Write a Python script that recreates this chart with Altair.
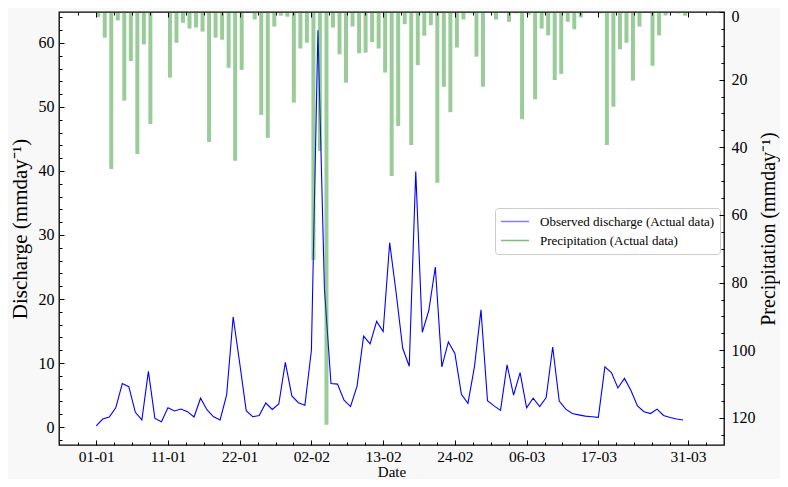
import json
import altair as alt
import pandas as pd

# ---------------- data ----------------
day_index = list(range(91))

discharge = [
    0.16, 1.25, 1.56, 3.0, 6.8, 6.3, 2.3, 1.1, 8.7, 1.35,
    0.83, 3.0, 2.5, 2.8, 2.4, 1.56, 4.5, 2.66, 1.6, 1.1,
    5.0, 17.2, 10.0, 2.55, 1.6, 1.8, 3.75, 2.75, 3.6, 10.1,
    4.85, 3.8, 3.4, 12.0, 62.0, 21.5, 6.8, 6.7, 4.2, 3.2,
    6.4, 14.2, 13.0, 16.5, 14.9, 28.8, 20.9, 12.3, 9.5, 39.9,
    14.8, 18.2, 25.0, 9.4, 13.3, 11.5, 5.1, 3.7, 9.4, 18.3,
    4.1, 3.3, 2.6, 9.7, 5.0, 8.5, 3.0, 4.5, 3.2, 4.6,
    12.5, 4.06, 2.8, 2.1, 1.9, 1.7, 1.6, 1.5, 9.4, 8.5,
    6.1, 7.6, 5.7, 3.3, 2.4, 2.1, 2.8, 1.8, 1.5, 1.25,
    1.1,
]

precipitation = [
    1.5, 7.6, 46.4, 2.5, 26.2, 14.5, 42.0, 9.6, 33.1, 0.0,
    0.0, 19.4, 9.1, 3.2, 4.9, 4.6, 5.8, 38.4, 7.6, 8.2,
    16.5, 44.0, 17.1, 0.0, 2.2, 30.4, 37.2, 4.3, 1.1, 1.4,
    26.8, 10.8, 9.1, 73.3, 41.1, 122.0, 4.6, 12.5, 20.9, 4.3,
    12.2, 12.0, 8.9, 10.8, 17.9, 48.5, 33.7, 3.6, 39.3, 15.7,
    7.0, 3.9, 50.5, 22.1, 29.6, 10.5, 2.2, 0.4, 13.2, 22.1,
    0.3, 2.2, 0.3, 2.9, 0.4, 31.7, 0.8, 25.8, 4.9, 6.9,
    20.1, 18.3, 2.9, 5.1, 1.6, 0.2, 0.0, 0.4, 39.3, 28.0,
    11.0, 9.1, 20.3, 4.3, 0.0, 15.9, 6.9, 1.0, 0.0, 0.4,
    1.1,
]

tick_positions = [0, 11, 22, 33, 44, 55, 66, 77, 90.75]
tick_labels = ["01-01", "11-01", "22-01", "02-02", "13-02",
               "24-02", "06-03", "17-03", "31-03"]

series_names = ["Observed discharge (Actual data)", "Precipitation (Actual data)"]

df = pd.DataFrame({"day": day_index, "discharge": discharge, "precip": precipitation})

# ---------------- styling ----------------
FONT = "Liberation Serif"
X_DOMAIN = [-4.94, 95.5]
Q_DOMAIN = [-2.81, 64.84]
P_DOMAIN = [0, 128]

minor_x = []
for k in range(36):
    v = round(-2.75 + 2.75 * k, 2)
    if v not in tick_positions:
        minor_x.append(v)
minor_y_left = [v for v in range(-2, 65, 2) if v % 10 != 0]
minor_y_right = [v for v in range(0, 129, 5) if v % 20 != 0]

label_expr = "{}[indexof({}, datum.value)]".format(json.dumps(tick_labels), json.dumps(tick_positions))

common_axis = dict(domain=False, grid=False, tickColor="black", tickWidth=1,
                   labelFont=FONT, labelColor="black", titleFont=FONT,
                   titleColor="black", titleFontWeight="normal", zindex=1)

MAJ = 5
MIN = 3
W, H = 665, 433

x_scale = alt.Scale(domain=X_DOMAIN, nice=False, zero=False)
q_scale = alt.Scale(domain=Q_DOMAIN, nice=False, zero=False)
p_scale = alt.Scale(domain=P_DOMAIN, nice=False, zero=False, reverse=True)

color_scale = alt.Scale(domain=series_names, range=["#0000ff", "#008000"])

legend = alt.Legend(
    orient="none", legendX=436, legendY=196, title=None,
    symbolType="stroke", symbolSize=784, symbolStrokeWidth=1.5, symbolOpacity=0.5,
    labelFont=FONT, labelFontSize=13, labelColor="black", labelOffset=10,
    labelLimit=400,
    padding=5, strokeColor="#cccccc", fillColor="white", cornerRadius=3,
    clipHeight=17, rowPadding=2,
)

base = alt.Chart(df)

line = base.transform_calculate(series="'%s'" % series_names[0]).mark_line(
    strokeWidth=1.1, clip=True
).encode(
    x=alt.X("day:Q", scale=x_scale, axis=alt.Axis(
        orient="bottom", values=tick_positions, labelExpr=label_expr,
        title="Date", tickSize=MAJ, offset=-MAJ, labelFontSize=15.5,
        labelPadding=4, titleFontSize=15, titlePadding=0, labelOverlap=False,
        labelFlush=False, **common_axis)),
    y=alt.Y("discharge:Q", scale=q_scale, axis=alt.Axis(
        orient="left", values=list(range(0, 61, 10)), title="Discharge (mmday⁻¹)",
        tickSize=MAJ, offset=-MAJ, labelFontSize=16, labelPadding=5,
        titleFontSize=21, titleAngle=270, titleBaseline="middle",
        titleX=-44, titleY=H / 2, labelFlush=False, **common_axis)),
    color=alt.Color("series:N", scale=color_scale, legend=legend),
)

line_minor = base.mark_line(opacity=0).encode(
    x=alt.X("day:Q", scale=x_scale, axis=alt.Axis(
        orient="bottom", values=minor_x, labels=False, title=None,
        tickSize=MIN, offset=-MIN, **common_axis)),
    y=alt.Y("discharge:Q", scale=q_scale, axis=alt.Axis(
        orient="left", values=minor_y_left, labels=False, title=None,
        tickSize=MIN, offset=-MIN, **common_axis)),
)

bars = base.transform_calculate(series="'%s'" % series_names[1]).mark_bar(
    size=4, xOffset=2, opacity=0.4
).encode(
    x=alt.X("day:Q", scale=x_scale, axis=alt.Axis(
        orient="top", values=tick_positions, labels=False, title=None,
        tickSize=MAJ, offset=-MAJ, **common_axis)),
    y=alt.Y("precip:Q", scale=p_scale, axis=alt.Axis(
        orient="right", values=list(range(0, 121, 20)),
        title="Precipitation (mmday⁻¹)", titleAngle=270, titleBaseline="middle",
        titleX=49, titleY=H / 2,
        labelOffset={"condition": {"test": "datum.value === 0", "value": 4}, "value": 0},
        tickSize=MAJ, offset=-MAJ, labelFontSize=16, labelPadding=7,
        titleFontSize=20, labelFlush=False, **common_axis)),
    color=alt.Color("series:N", scale=color_scale, legend=legend),
)

bars_minor = base.mark_line(opacity=0).encode(
    x=alt.X("day:Q", scale=x_scale, axis=alt.Axis(
        orient="top", values=minor_x, labels=False, title=None,
        tickSize=MIN, offset=-MIN, **common_axis)),
    y=alt.Y("precip:Q", scale=p_scale, axis=alt.Axis(
        orient="right", values=minor_y_right, labels=False, title=None,
        tickSize=MIN, offset=-MIN, **common_axis)),
)

chart = alt.layer(line, line_minor, bars, bars_minor).resolve_scale(
    y="independent"
).resolve_axis(
    x="independent", y="independent"
).properties(
    width=W, height=H,
    autosize=alt.AutoSizeParams(type="none"),
    padding={"left": 51, "top": 4, "right": 56, "bottom": 34},
    background="#f8f8f8",
).configure_view(
    stroke="black", strokeWidth=1.3, fill="white"
)

chart.save("out.html", embed_options={"renderer": "svg", "actions": False})
